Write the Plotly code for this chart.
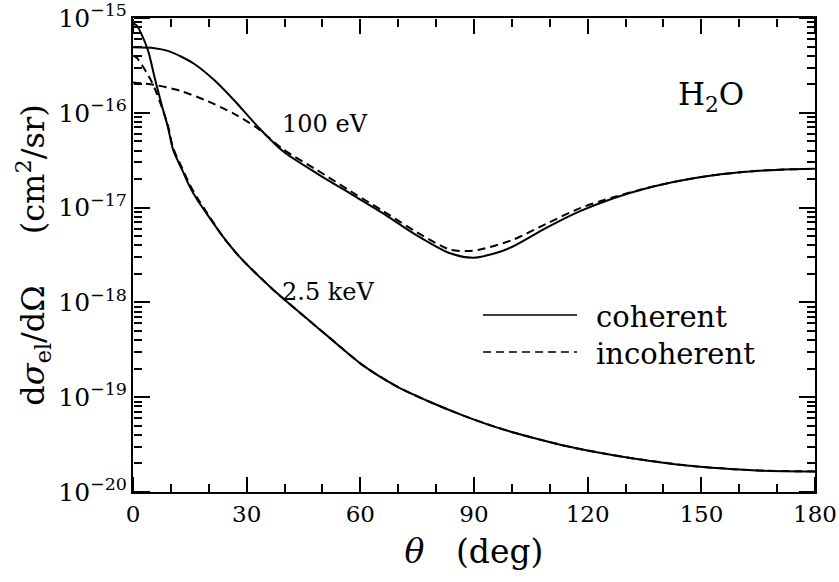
import math
import plotly.graph_objects as go

# ---------------- data ----------------
theta_100_coh = [0, 5.7, 9.2, 12.8, 16.3, 21.5, 26.8, 33, 39.7, 48.5, 57.3, 66, 74.9, 83.7,
                 89.8, 96, 100.4, 109.2, 118, 126.8, 135.6, 144.4, 153.2, 162, 170.8, 180]
sigma_100_coh = [4.9e-16, 4.8e-16, 4.5e-16, 3.9e-16, 3.25e-16, 2.2e-16, 1.34e-16, 7.1e-17,
                 3.9e-17, 2.3e-17, 1.41e-17, 8.7e-18, 5.1e-18, 3.3e-18, 2.96e-18, 3.34e-18,
                 3.91e-18, 6.14e-18, 9.16e-18, 1.257e-17, 1.603e-17, 1.923e-17, 2.198e-17,
                 2.393e-17, 2.513e-17, 2.563e-17]

theta_100_inc = [0, 5.7, 12.8, 19.8, 26.8, 33, 39.7, 48.5, 57.3, 66, 74.9, 83.7, 88, 91.6,
                 100.4, 109.2, 118, 126.8, 135.6, 144.4, 153.2, 162, 170.8, 180]
sigma_100_inc = [2.09e-16, 1.97e-16, 1.69e-16, 1.32e-16, 9.7e-17, 6.8e-17, 4.1e-17, 2.5e-17,
                 1.5e-17, 9.2e-18, 5.5e-18, 3.6e-18, 3.48e-18, 3.61e-18, 4.6e-18, 6.79e-18,
                 9.86e-18, 1.288e-17, 1.61e-17, 1.925e-17, 2.198e-17, 2.393e-17, 2.513e-17, 2.563e-17]

theta_2k5_coh = [0, 1, 2.2, 4, 5.7, 7.5, 9.2, 10.6, 13, 15, 17, 19.4, 23.8, 28.2, 37,
                 45.8, 52, 60.8, 69.6, 78.4, 87.2, 96, 104.8, 113.6, 122.4, 131.2, 140,
                 148.8, 157.6, 166.4, 180]
sigma_2k5_coh = [8.8e-16, 8.3e-16, 6.8e-16, 4.5e-16, 2.36e-16, 1.24e-16, 7.1e-17, 4.06e-17,
                 2.48e-17, 1.66e-17, 1.2e-17, 8.7e-18, 4.9e-18, 3.0e-18, 1.36e-18,
                 6.8e-19, 4.2e-19, 2.15e-19, 1.3e-19, 8.9e-20, 6.4e-20, 4.8e-20, 3.8e-20,
                 3.1e-20, 2.63e-20, 2.29e-20, 2.04e-20, 1.86e-20, 1.75e-20, 1.68e-20, 1.65e-20]

theta_2k5_inc = [0, 1, 2.2, 3.5, 4.8, 6, 7.5, 9.2, 10.6, 13, 15, 17, 19.4, 23.8, 28.2, 37,
                 45.8, 52, 60.8, 69.6, 78.4, 87.2, 96, 104.8, 113.6, 122.4, 131.2, 140,
                 148.8, 157.6, 166.4, 180]
sigma_2k5_inc = [4.0e-16, 3.8e-16, 3.27e-16, 2.7e-16, 2.18e-16, 1.7e-16, 1.18e-16, 7.4e-17,
                 4.25e-17, 2.6e-17, 1.74e-17, 1.26e-17, 9.0e-18, 4.9e-18, 3.0e-18, 1.36e-18,
                 6.8e-19, 4.2e-19, 2.15e-19, 1.3e-19, 8.9e-20, 6.4e-20, 4.8e-20, 3.8e-20,
                 3.1e-20, 2.63e-20, 2.29e-20, 2.04e-20, 1.86e-20, 1.75e-20, 1.68e-20, 1.65e-20]

x_ticks = [0, 30, 60, 90, 120, 150, 180]
x_range = [0, 180]
y_decades = [-20, -19, -18, -17, -16, -15]
y_range_log = [-20, -15]
legend_labels = ["coherent", "incoherent"]
curve_labels = ["100 eV", "2.5 keV"]

FONT = "DejaVu Serif, Liberation Serif, serif"
DASH = "8px,5px"

fig = go.Figure()
series = [
    (theta_100_coh, sigma_100_coh, "solid", "100 eV coherent"),
    (theta_100_inc, sigma_100_inc, DASH, "100 eV incoherent"),
    (theta_2k5_coh, sigma_2k5_coh, "solid", "2.5 keV coherent"),
    (theta_2k5_inc, sigma_2k5_inc, DASH, "2.5 keV incoherent"),
]
for xs, ys, dash, name in series:
    fig.add_trace(go.Scatter(
        x=xs, y=ys, mode="lines", name=name, showlegend=False,
        line=dict(color="black", width=2, dash=dash, shape="spline", smoothing=0.8),
    ))

# empty traces that only register the tick-only overlay axes (inward ticks on all four sides)
for xa, ya in [("x2", "y"), ("x3", "y"), ("x", "y2"), ("x", "y3")]:
    fig.add_trace(go.Scatter(x=[], y=[], xaxis=xa, yaxis=ya, mode="lines",
                             showlegend=False, hoverinfo="skip"))

L, R, T, B = 133, 24, 18, 90
W, H = 839, 582
pw, ph = W - L - R, H - T - B


def px(x):
    return (x - L) / pw


def py(y):
    return (H - B - y) / ph


# legend (drawn manually, long sample lines as in reference)
for label, yy, dash in [(legend_labels[0], 315, "solid"), (legend_labels[1], 352, DASH)]:
    fig.add_shape(type="line", xref="paper", yref="paper",
                  x0=px(483), x1=px(577), y0=py(yy), y1=py(yy),
                  line=dict(color="black", width=1.5, dash=dash))
    fig.add_annotation(text=label, xref="paper", yref="paper", x=px(594), y=py(yy + 2),
                       xanchor="left", yanchor="middle", showarrow=False,
                       font=dict(family=FONT, size=29, color="black"))

fig.add_annotation(text=curve_labels[0], xref="paper", yref="paper", x=px(280), y=py(124),
                   xanchor="left", yanchor="middle", showarrow=False,
                   font=dict(family=FONT, size=24, color="black"))
fig.add_annotation(text=curve_labels[1], xref="paper", yref="paper", x=px(280), y=py(292),
                   xanchor="left", yanchor="middle", showarrow=False,
                   font=dict(family=FONT, size=24, color="black"))
fig.add_annotation(text="H<sub>2</sub>O", xref="paper", yref="paper", x=px(676), y=py(96),
                   xanchor="left", yanchor="middle", showarrow=False,
                   font=dict(family=FONT, size=31, color="black"))

x_tick_axis = dict(
    overlaying="x", anchor="free", range=x_range, tickmode="array", tickvals=x_ticks,
    ticks="outside", ticklen=15, tickwidth=2, tickcolor="black",
    showticklabels=False, showgrid=False, zeroline=False, showline=False,
    minor=dict(tickmode="linear", tick0=0, dtick=10, ticks="outside", ticklen=8,
               tickwidth=1.5, tickcolor="black", showgrid=False),
)

# tick positions of the log axis expressed in decades (linear overlay axis in log10 units)
y_minor_pos = [d + math.log10(k) for d in y_decades[:-1] for k in range(2, 10)]
y_tick_axis = dict(
    overlaying="y", anchor="free", type="linear", range=y_range_log,
    tickmode="array", tickvals=y_decades,
    ticks="outside", ticklen=16, tickwidth=2, tickcolor="black",
    showticklabels=False, showgrid=False, zeroline=False, showline=False,
    minor=dict(tickmode="array", tickvals=y_minor_pos, ticks="outside", ticklen=8,
               tickwidth=1.5, tickcolor="black", showgrid=False),
)

fig.update_layout(
    template="none",
    width=W, height=H,
    margin=dict(l=L, r=R, t=T, b=B, autoexpand=False),
    paper_bgcolor="white", plot_bgcolor="white",
    showlegend=False,
    font=dict(family=FONT, color="black"),
    xaxis=dict(
        range=x_range, tickmode="array", tickvals=x_ticks,
        showline=True, linecolor="black", linewidth=2, mirror=True,
        ticks="", showgrid=False, zeroline=False,
        tickfont=dict(size=23, family=FONT),
        title=dict(text="<i>θ</i>\u00a0\u00a0\u00a0(deg)", font=dict(size=33, family=FONT),
                   standoff=14),
    ),
    yaxis=dict(
        type="log", range=y_range_log, dtick=1, exponentformat="power",
        showline=True, linecolor="black", linewidth=2, mirror=True,
        ticks="", showgrid=False, zeroline=False,
        tickfont=dict(size=20, family=FONT),
        title=dict(text="d<i>σ</i><sub>el</sub>/dΩ\u00a0\u00a0\u00a0\u00a0\u00a0(cm<sup>2</sup>/sr)",
                   font=dict(size=32, family=FONT), standoff=4),
    ),
    xaxis2=dict(side="top", position=0, **x_tick_axis),
    xaxis3=dict(side="bottom", position=1, **x_tick_axis),
    yaxis2=dict(side="right", position=0, **y_tick_axis),
    yaxis3=dict(side="left", position=1, **y_tick_axis),
)

fig.write_html("out.html", config={"displayModeBar": False},
               post_script="document.body.style.margin='0px';")
